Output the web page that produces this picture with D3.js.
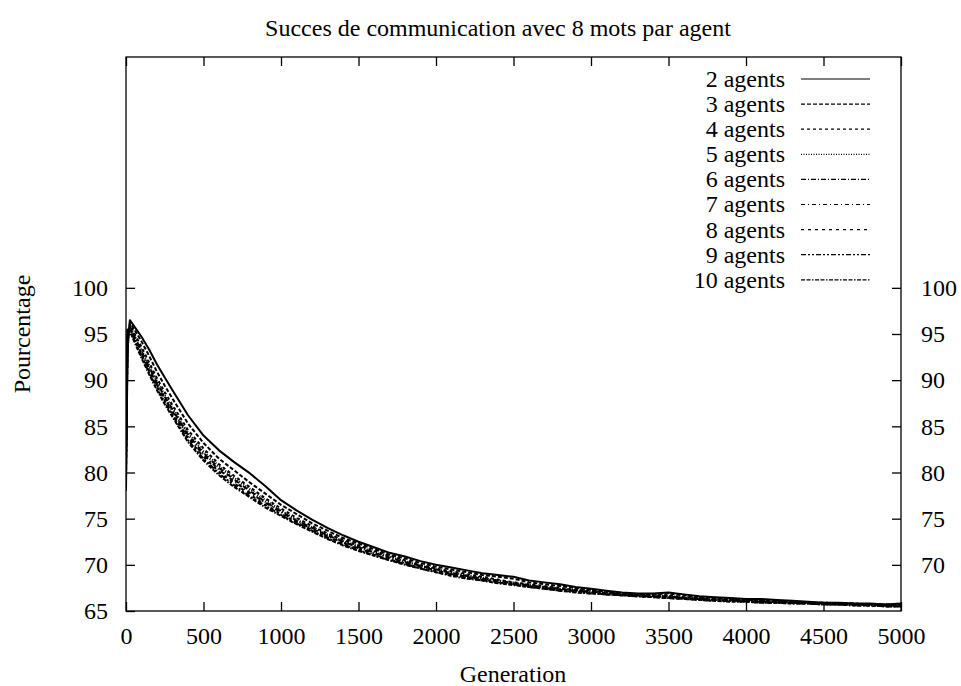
<!DOCTYPE html>
<html>
<head>
<meta charset="utf-8">
<script src="https://cdn.jsdelivr.net/npm/d3@7"></script>
<style>
  html, body { margin: 0; padding: 0; background: #fff; }
  svg { display: block; }
  text { font-family: "Liberation Serif", "Times New Roman", serif; fill: #000; }
</style>
</head>
<body>
<svg id="chart" width="961" height="686"></svg>
<script>
// ---- data ----
const titleText = "Succes de communication avec 8 mots par agent";
const xLabel = "Generation";
const yLabel = "Pourcentage";
const seriesNames = ["2 agents","3 agents","4 agents","5 agents","6 agents","7 agents","8 agents","9 agents","10 agents"];
const generations = [0,10,25,50,100,150,200,250,300,400,500,600,700,800,900,1000,1100,1200,1300,1400,1500,1600,1700,1800,1900,2000,2100,2200,2300,2400,2500,2600,2700,2800,2900,3000,3100,3200,3300,3400,3500,3600,3700,3800,3900,4000,4100,4200,4300,4400,4500,4600,4700,4800,4900,5000];
const xTicks = [0,500,1000,1500,2000,2500,3000,3500,4000,4500,5000];
const yTicksLeft = [65,70,75,80,85,90,95,100];
const yTicksRight = [70,75,80,85,90,95,100];

const agents2  = [78.0,93.2,96.5,95.9,94.7,93.3,91.7,90.3,88.9,86.2,84.0,82.4,81.1,79.9,78.5,77.0,75.9,74.9,74.0,73.2,72.5,71.9,71.3,70.9,70.4,70.0,69.7,69.4,69.1,68.9,68.7,68.3,68.1,67.9,67.6,67.4,67.2,67.0,66.9,66.9,67.0,66.8,66.6,66.5,66.4,66.3,66.3,66.2,66.1,66.0,65.9,65.9,65.8,65.8,65.7,65.8];
const agents3  = [79.0,94.0,96.2,95.6,94.2,92.6,90.9,89.4,88.0,85.3,83.2,81.5,80.2,78.9,77.7,76.5,75.5,74.5,73.7,72.9,72.3,71.7,71.1,70.7,70.2,69.8,69.5,69.2,68.9,68.7,68.5,68.1,67.9,67.7,67.5,67.3,67.1,66.9,66.8,66.8,66.9,66.7,66.5,66.4,66.3,66.2,66.2,66.1,66.0,65.9,65.9,65.8,65.8,65.7,65.7,65.7];
const agents4  = [79.5,94.5,96.0,95.2,93.6,91.9,90.2,88.7,87.3,84.6,82.6,80.9,79.6,78.4,77.2,76.1,75.1,74.2,73.4,72.7,72.1,71.5,71.0,70.5,70.0,69.6,69.3,69.0,68.7,68.4,68.1,67.9,67.7,67.5,67.3,67.2,67.0,66.9,66.8,66.7,66.7,66.5,66.4,66.3,66.2,66.2,66.1,66.0,66.0,65.9,65.9,65.8,65.8,65.7,65.7,65.7];
const agents5  = [80.0,94.8,95.9,95.0,93.3,91.6,89.9,88.4,87.0,84.3,82.3,80.7,79.4,78.2,77.0,75.9,74.9,74.1,73.3,72.6,72.0,71.4,70.9,70.4,69.9,69.5,69.2,68.9,68.6,68.3,68.1,67.8,67.6,67.4,67.3,67.1,67.0,66.8,66.7,66.7,66.6,66.5,66.4,66.3,66.2,66.1,66.1,66.0,65.9,65.9,65.8,65.8,65.7,65.7,65.7,65.6];
const agents6  = [80.5,95.0,95.8,94.9,93.1,91.4,89.7,88.2,86.8,84.1,82.1,80.5,79.2,78.0,76.8,75.8,74.8,74.0,73.2,72.5,71.9,71.3,70.8,70.3,69.9,69.5,69.1,68.8,68.5,68.3,68.0,67.8,67.6,67.4,67.2,67.1,66.9,66.8,66.7,66.6,66.6,66.4,66.3,66.2,66.2,66.1,66.0,66.0,65.9,65.9,65.8,65.8,65.7,65.7,65.6,65.6];
const agents7  = [81.0,95.2,95.7,94.8,93.0,91.2,89.5,88.0,86.6,83.9,81.9,80.3,79.0,77.8,76.7,75.7,74.7,73.9,73.1,72.4,71.8,71.2,70.7,70.2,69.8,69.4,69.0,68.7,68.5,68.2,68.0,67.7,67.5,67.3,67.2,67.0,66.9,66.8,66.7,66.6,66.5,66.4,66.3,66.2,66.1,66.1,66.0,65.9,65.9,65.8,65.8,65.7,65.7,65.6,65.6,65.6];
const agents8  = [81.5,95.3,95.6,94.6,92.8,91.0,89.3,87.8,86.4,83.7,81.7,80.1,78.8,77.6,76.5,75.5,74.6,73.8,73.0,72.3,71.7,71.1,70.6,70.1,69.7,69.3,69.0,68.7,68.4,68.1,67.9,67.7,67.5,67.3,67.1,67.0,66.8,66.7,66.6,66.5,66.5,66.4,66.3,66.2,66.1,66.0,66.0,65.9,65.9,65.8,65.8,65.7,65.7,65.6,65.6,65.5];
const agents9  = [82.0,95.4,95.5,94.5,92.6,90.8,89.1,87.6,86.2,83.5,81.5,79.9,78.6,77.4,76.4,75.4,74.5,73.7,72.9,72.2,71.6,71.0,70.5,70.1,69.6,69.2,68.9,68.6,68.3,68.1,67.9,67.6,67.4,67.2,67.1,66.9,66.8,66.7,66.6,66.5,66.4,66.3,66.2,66.1,66.1,66.0,65.9,65.9,65.8,65.8,65.7,65.7,65.6,65.6,65.5,65.5];
const agents10 = [82.5,95.5,95.4,94.3,92.4,90.6,88.9,87.4,86.0,83.3,81.3,79.7,78.4,77.3,76.2,75.3,74.4,73.6,72.8,72.1,71.5,71.0,70.5,70.0,69.6,69.2,68.8,68.5,68.3,68.0,67.8,67.6,67.4,67.2,67.0,66.9,66.8,66.7,66.6,66.5,66.4,66.3,66.2,66.1,66.0,66.0,65.9,65.9,65.8,65.8,65.7,65.7,65.6,65.6,65.5,65.5];
const seriesValues = [agents2, agents3, agents4, agents5, agents6, agents7, agents8, agents9, agents10];
const dashes = ["", "4,2", "3,3", "1,1.5", "5,2,1,2", "4,3,1,3", "3,4", "5,2,2,2,2,2", "4,1.5,4,1.5,1.5,1.5"];

// ---- layout ----
const svg = d3.select("#chart");
const m = { left: 126, right: 901, top: 57, bottom: 611 };
const x = d3.scaleLinear().domain([0, 5000]).range([m.left, m.right]);
const y = d3.scaleLinear().domain([65, 125]).range([m.bottom, m.top]);
const fs = 24;
const ff = '"Liberation Serif", "Times New Roman", serif';

// frame
svg.append("rect").attr("x", m.left).attr("y", m.top)
  .attr("width", m.right - m.left).attr("height", m.bottom - m.top)
  .attr("fill", "none").attr("stroke", "#000").attr("stroke-width", 1.3);

const tickLen = 9;
const bottomAxis = d3.axisBottom(x).tickValues(xTicks).tickSize(-tickLen).tickPadding(16).tickFormat(d3.format("d"));
const gB = svg.append("g").attr("transform", `translate(0,${m.bottom})`).call(bottomAxis);
const topAxis = d3.axisTop(x).tickValues(xTicks).tickSize(-tickLen).tickFormat("");
const gT = svg.append("g").attr("transform", `translate(0,${m.top})`).call(topAxis);
const leftAxis = d3.axisLeft(y).tickValues(yTicksLeft).tickSize(-tickLen).tickPadding(18).tickFormat(d3.format("d"));
const gL = svg.append("g").attr("transform", `translate(${m.left},0)`).call(leftAxis);
const rightAxis = d3.axisRight(y).tickValues(yTicksRight).tickSize(-tickLen).tickPadding(20).tickFormat(d3.format("d"));
const gR = svg.append("g").attr("transform", `translate(${m.right},0)`).call(rightAxis);

[gB, gT, gL, gR].forEach(g => {
  g.attr("font-family", null).attr("font-size", null);
  g.select(".domain").remove();
  g.selectAll(".tick line").attr("stroke", "#000").attr("stroke-width", 1.3);
  g.selectAll(".tick text").style("font-family", ff).style("font-size", fs + "px").attr("fill", "#000");
});

svg.append("clipPath").attr("id", "clip").append("rect")
  .attr("x", m.left).attr("y", m.top).attr("width", m.right - m.left).attr("height", m.bottom - m.top);

const line = d3.line().x((d, i) => x(generations[i])).y(d => y(d));
const plot = svg.append("g").attr("clip-path", "url(#clip)");
seriesValues.forEach((vals, k) => {
  plot.append("path").datum(vals)
    .attr("d", line)
    .attr("fill", "none")
    .attr("stroke", "#000")
    .attr("stroke-width", 2)
    .attr("stroke-linejoin", "round")
    .attr("stroke-dasharray", dashes[k] || null);
});

// legend
const legTextX = 785, legLineX1 = 801, legLineX2 = 870, legY0 = 79, legDy = 25.1;
seriesNames.forEach((name, k) => {
  const yy = legY0 + k * legDy;
  svg.append("text").attr("x", legTextX).attr("y", yy).attr("dy", "0.33em")
    .attr("text-anchor", "end").style("font-family", ff).style("font-size", fs + "px").text(name);
  svg.append("line").attr("x1", legLineX1).attr("x2", legLineX2).attr("y1", yy).attr("y2", yy)
    .attr("stroke", "#000").attr("stroke-width", 1.2)
    .attr("stroke-dasharray", dashes[k] || null);
});

// title and labels
svg.append("text").attr("x", 498).attr("y", 28).attr("dy", "0.33em").attr("text-anchor", "middle")
  .style("font-family", ff).style("font-size", fs + "px").text(titleText);
svg.append("text").attr("x", 513).attr("y", 674).attr("dy", "0.33em").attr("text-anchor", "middle")
  .style("font-family", ff).style("font-size", fs + "px").text(xLabel);
svg.append("text").attr("transform", "translate(22,334) rotate(-90)").attr("dy", "0.33em")
  .attr("text-anchor", "middle").style("font-family", ff).style("font-size", fs + "px").text(yLabel);
</script>
</body>
</html>
